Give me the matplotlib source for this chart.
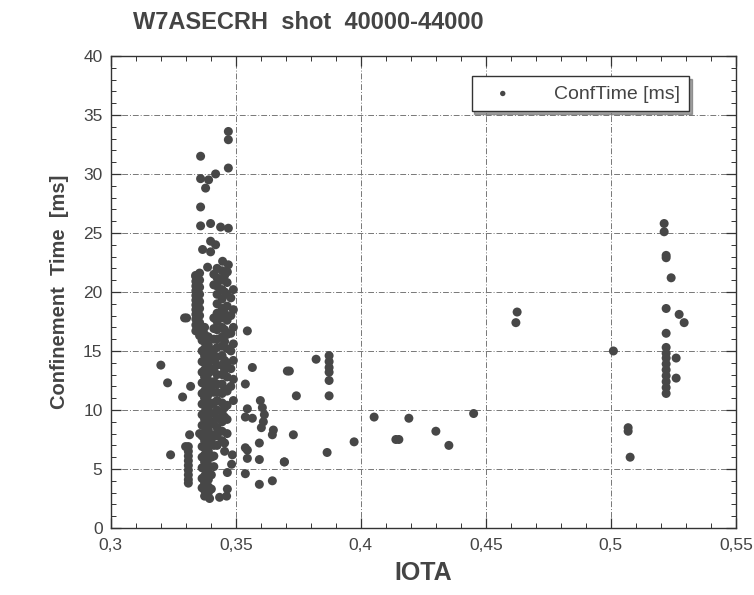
import matplotlib
matplotlib.use("Agg")
import matplotlib.pyplot as plt
from matplotlib.ticker import MultipleLocator, FuncFormatter

# ---- data (IOTA, confinement time [ms]) ----
# dense core columns
core_x_a = [0.3340] * 12
core_y_a = [21.3, 20.9, 20.5, 20.1, 19.7, 19.3, 18.9, 18.5, 18.1, 17.7, 17.2, 16.7]
core_x_a2 = [0.3355] * 10
core_y_a2 = [21.6, 21.0, 20.4, 19.8, 19.2, 18.6, 18.0, 17.4, 16.8, 16.3]
core_x_d = [0.3365] * 15
core_y_d = [15.9, 15.0, 14.1, 13.2, 12.3, 11.4, 10.5, 9.6, 8.7, 7.8, 6.9, 6.0, 5.1, 4.2, 3.4]
core_x_b = [0.3375] * 25
core_y_b = [17.0, 16.4, 15.8, 15.2, 14.6, 14.0, 13.4, 12.8, 12.2, 11.6, 11.0, 10.4,
            9.8, 9.2, 8.6, 8.0, 7.4, 6.8, 6.2, 5.6, 5.0, 4.4, 3.8, 3.2, 2.7]
core_x_b2 = [0.3390] * 23
core_y_b2 = [16.2, 15.5, 14.9, 14.3, 13.7, 13.1, 12.5, 11.9, 11.3, 10.7, 10.1, 9.5,
             8.9, 8.3, 7.7, 7.1, 6.5, 5.9, 5.3, 4.7, 4.1, 3.5, 3.0]
core_x_b3 = [0.3402] * 9
core_y_b3 = [14.8, 13.5, 12.0, 10.5, 9.0, 7.5, 6.0, 4.5, 3.3]
core_x_e = [0.3412] * 17
core_y_e = [21.5, 20.6, 17.8, 16.9, 16.0, 15.1, 14.2, 13.3, 12.4, 11.5, 10.6, 9.7,
            8.8, 7.9, 7.0, 6.1, 5.2]
core_x_c = [0.3425] * 21
core_y_c = [22.0, 21.2, 20.5, 19.8, 19.0, 18.2, 17.5, 16.8, 16.0, 15.3, 14.5, 13.8,
            13.0, 12.2, 11.5, 10.8, 10.0, 9.3, 8.5, 7.8, 7.0]
core_x_c2 = [0.3445] * 19
core_y_c2 = [21.8, 21.0, 20.2, 19.4, 18.6, 17.8, 17.0, 16.2, 15.4, 14.6, 13.8, 13.0,
             12.2, 11.4, 10.6, 9.8, 9.0, 8.2, 7.4]
core_x_f = [0.3455] * 12
core_y_f = [21.4, 20.0, 18.2, 16.8, 15.8, 14.2, 13.4, 11.8, 10.2, 9.4, 7.2, 6.5]
core_x_c3 = [0.3465] * 12
core_y_c3 = [20.8, 19.8, 18.8, 17.6, 16.4, 15.2, 14.0, 12.8, 11.6, 10.4, 9.2, 8.0]
core_x_c4 = [0.3480] * 6
core_y_c4 = [19.5, 18.0, 16.5, 15.0, 13.5, 12.0]
core_x_g = [0.3490] * 7
core_y_g = [20.2, 18.5, 17.0, 15.6, 14.2, 12.6, 10.8]
core_x_l = [0.3310] * 9
core_y_l = [6.9, 6.5, 6.1, 5.7, 5.3, 4.9, 4.5, 4.1, 3.8]

# upper scattered points of the core
top_x = [0.3470, 0.3470, 0.3359, 0.3470, 0.3419, 0.3359, 0.3391, 0.3379, 0.3359,
         0.3359, 0.3399, 0.3439, 0.3470, 0.3399, 0.3419, 0.3367, 0.3399, 0.3447,
         0.3470, 0.3387, 0.3339, 0.3466]
top_y = [33.6, 32.9, 31.5, 30.5, 30.0, 29.6, 29.5, 28.8, 27.2,
         25.6, 25.8, 25.5, 25.4, 24.3, 24.0, 23.6, 23.4, 22.6,
         22.3, 22.1, 21.4, 21.7]

# scattered points around the core
side_x = [0.3295, 0.3303, 0.3546, 0.3200, 0.3566, 0.3706, 0.3227, 0.3319, 0.3538,
          0.3287, 0.3546, 0.3538, 0.3566, 0.3598, 0.3606, 0.3614, 0.3610, 0.3602,
          0.3650, 0.3646, 0.3594, 0.3315, 0.3355, 0.3299, 0.3239, 0.3538, 0.3546,
          0.3594, 0.3694, 0.3486, 0.3483, 0.3466, 0.3538, 0.3594, 0.3646, 0.3435,
          0.3463, 0.3395, 0.3466, 0.3546]
side_y = [17.8, 17.8, 16.7, 13.8, 13.6, 13.3, 12.3, 12.0, 12.2,
          11.1, 10.1, 9.4, 9.3, 10.8, 10.2, 9.6, 9.0, 8.5,
          8.3, 7.9, 7.2, 7.9, 8.0, 6.9, 6.2, 6.8, 5.9,
          5.8, 5.6, 6.2, 5.4, 4.7, 4.6, 3.7, 4.0, 2.6,
          2.7, 2.5, 3.3, 6.6]

mid_x = [0.3821, 0.3873, 0.3873, 0.3873, 0.3873, 0.3873, 0.3873, 0.3714, 0.3742,
         0.3730, 0.3694, 0.3865, 0.3973, 0.4053, 0.4192, 0.4140, 0.4152, 0.4300,
         0.4352, 0.4451, 0.4625, 0.4620]
mid_y = [14.3, 14.6, 14.1, 13.6, 13.2, 12.5, 11.2, 13.3, 11.2,
         7.9, 5.6, 6.4, 7.3, 9.4, 9.3, 7.5, 7.5, 8.2,
         7.0, 9.7, 18.3, 17.4]

right_x = [0.5213, 0.5213, 0.5221, 0.5221, 0.5241, 0.5221, 0.5273, 0.5293, 0.5221,
           0.5010, 0.5221, 0.5221, 0.5221, 0.5221, 0.5221, 0.5221, 0.5221, 0.5221,
           0.5221, 0.5261, 0.5261, 0.5069, 0.5069, 0.5077]
right_y = [25.8, 25.1, 23.1, 22.9, 21.2, 18.6, 18.1, 17.4, 16.5,
           15.0, 15.3, 14.8, 14.4, 13.9, 13.4, 12.9, 12.4, 11.9,
           11.4, 14.4, 12.7, 8.5, 8.2, 6.0]

xs = (core_x_a + core_x_a2 + core_x_d + core_x_b + core_x_b2 + core_x_b3 + core_x_e
      + core_x_c + core_x_c2 + core_x_f + core_x_c3 + core_x_c4 + core_x_g + core_x_l
      + top_x + side_x + mid_x + right_x)
ys = (core_y_a + core_y_a2 + core_y_d + core_y_b + core_y_b2 + core_y_b3 + core_y_e
      + core_y_c + core_y_c2 + core_y_f + core_y_c3 + core_y_c4 + core_y_g + core_y_l
      + top_y + side_y + mid_y + right_y)

x_ticks = [0.30, 0.35, 0.40, 0.45, 0.50, 0.55]
y_ticks = [0, 5, 10, 15, 20, 25, 30, 35, 40]

plt.rcParams['font.family'] = ['Liberation Sans', 'DejaVu Sans']

fig = plt.figure(figsize=(7.54, 5.95), dpi=100)
ax = fig.add_axes([0.147, 0.1126, 0.829, 0.7934])

mark_col = '#474747'
ax.scatter(xs, ys, s=42, color=mark_col, edgecolors='none', zorder=3,
           label='ConfTime [ms]')

ax.set_xlim(0.30, 0.55)
ax.set_ylim(0, 40)
ax.set_xticks(x_ticks)
ax.set_yticks(y_ticks)
ax.xaxis.set_minor_locator(MultipleLocator(0.01))
ax.yaxis.set_minor_locator(MultipleLocator(1))

def comma_fmt(v, pos):
    s = ('%.2f' % v).rstrip('0').rstrip('.')
    return s.replace('.', ',')

ax.xaxis.set_major_formatter(FuncFormatter(comma_fmt))
ax.tick_params(which='both', direction='in', top=True, right=True,
               colors='#333333', labelcolor='#444444', labelsize=12.5)
ax.tick_params(which='major', length=7, width=0.9)
ax.tick_params(which='minor', length=3.5, width=0.7)
ax.tick_params(axis='x', pad=7)
ax.tick_params(axis='y', pad=6)

ax.grid(True, which='major', linestyle=(0, (6, 2, 1, 2)), color='#777777',
        linewidth=0.7, zorder=0)
for sp in ax.spines.values():
    sp.set_color('#333333')
    sp.set_linewidth(1.0)

ax.set_xlabel('IOTA', fontsize=18, fontweight='bold', color='#444444', labelpad=6)
ax.set_ylabel('Confinement  Time  [ms]', fontsize=14.5, fontweight='bold',
              color='#444444', labelpad=10)

fig.text(0.176, 0.962, 'W7ASECRH  shot  40000-44000', fontsize=17,
         fontweight='bold', color='#444444', ha='left', va='center')

leg = ax.legend(loc='upper right', bbox_to_anchor=(0.925, 0.957), fontsize=14,
                frameon=True, fancybox=False, shadow=True, markerscale=0.6,
                borderpad=0.45, handletextpad=1.5, borderaxespad=0,
                handlelength=2.3)
leg.get_frame().set_edgecolor('#333333')
leg.get_frame().set_linewidth(1.0)
for t in leg.get_texts():
    t.set_color('#444444')

fig.savefig('out.png', dpi=100, facecolor='white')
